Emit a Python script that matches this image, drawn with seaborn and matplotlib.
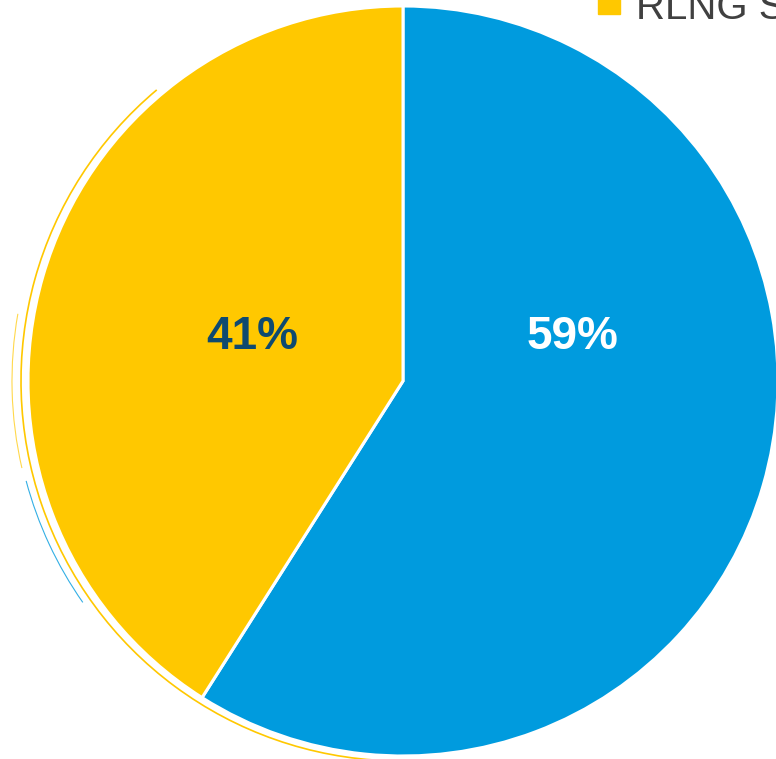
import seaborn as sns
import matplotlib.pyplot as plt
from matplotlib.patches import Arc, Rectangle

# Share data (clockwise from 12 o'clock)
labels = ['Other', 'RLNG Sales']
shares = [59, 41]
colors = ['#009BDE', '#FFC800']
label_colors = ['white', '#0E4A70']
legend_label = 'RLNG Sales'

sns.set_theme(style='white')
plt.rcParams['font.family'] = ['Liberation Sans', 'DejaVu Sans']

fig = plt.figure(figsize=(7.76, 7.59), dpi=100)
ax = fig.add_axes([0, 0, 1, 1])
ax.axis('off')

cx, cy, r = 403, 378, 375

# faint ghost outlines on the left side
ax.add_patch(Arc((cx - 2, cy), 2 * (r + 5), 2 * (r + 5), theta1=130, theta2=268,
                 color=colors[1], lw=1.2))
ax.add_patch(Arc((cx - 4, cy), 2 * (r + 12), 2 * (r + 12), theta1=170, theta2=193,
                 color=colors[1], lw=0.8, alpha=0.7))
ax.add_patch(Arc((cx - 4, cy), 2 * (r + 11), 2 * (r + 11), theta1=195, theta2=215,
                 color=colors[0], lw=0.8, alpha=0.8))

wedges, _ = ax.pie(shares, colors=colors, startangle=90, counterclock=False,
                   center=(cx, cy), radius=r,
                   wedgeprops=dict(edgecolor='white', linewidth=2.2))
ax.set_xlim(0, 776)
ax.set_ylim(0, 759)
ax.set_aspect('equal')

# percentage labels
label_pos = [(573, 422), (252, 422)]
for val, (x, y), c in zip(shares, label_pos, label_colors):
    ax.text(x, y, f'{val}%', ha='center', va='center', color=c,
            fontsize=33, fontweight='bold')

# legend (partly cut off at top right)
fig.patches.append(Rectangle((598 / 776, 1 - 14 / 759), 22 / 776, 24 / 759,
                             transform=fig.transFigure, color=colors[1]))
fig.text(636 / 776, 1 - 19 / 759, legend_label, color='#404040', fontsize=29,
         ha='left', va='baseline')

fig.savefig('out.png', dpi=100)
